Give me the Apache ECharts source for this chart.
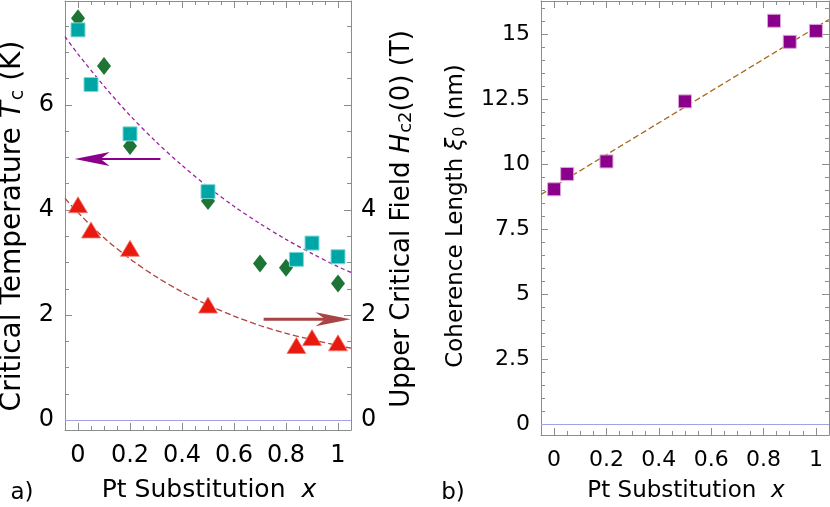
<!DOCTYPE html>
<html><head><meta charset="utf-8">
<script src="https://cdn.jsdelivr.net/npm/echarts@6/dist/echarts.min.js"></script>
<style>html,body{margin:0;padding:0;background:#fff}#c{width:830px;height:507px}</style>
</head><body><div id="c"></div>
<script>
// ---- data ----
var xTcA = [0, 0.1, 0.2, 0.5, 0.7, 0.8, 1];
var tcA  = [7.65, 6.74, 5.22, 4.17, 2.98, 2.90, 2.60];
var xTcB = [0, 0.05, 0.2, 0.5, 0.84, 0.9, 1];
var tcB  = [7.43, 6.39, 5.45, 4.35, 3.06, 3.37, 3.11];
var xHc  = [0, 0.05, 0.2, 0.5, 0.84, 0.9, 1];
var hc2  = [4.10, 3.62, 3.27, 2.19, 1.42, 1.57, 1.47];
var xFit = [-0.05, 0, 0.1, 0.2, 0.3, 0.4, 0.5, 0.6, 0.7, 0.8, 0.9, 1.0, 1.05];
var tcFit = [7.30, 6.97, 6.36, 5.80, 5.30, 4.85, 4.44, 4.07, 3.74, 3.44, 3.17, 2.92, 2.81];
var hcFit = [4.22, 3.95, 3.47, 3.07, 2.73, 2.44, 2.19, 1.98, 1.80, 1.65, 1.53, 1.42, 1.37];
var xXi  = [0, 0.05, 0.2, 0.5, 0.84, 0.9, 1];
var xi   = [9.03, 9.62, 10.10, 12.41, 15.51, 14.70, 15.12];
var xXiFit = [-0.05, 1.05];
var xiFit  = [8.83, 15.56];
// arrows: [tailX, tailY, tipX, tipY] in data units
var tcArrow = [[0.317, 4.97, -0.013, 4.97]];
var hcArrow = [[0.714, 1.92, 1.048, 1.92]];
// ticks
var xTicks = [0, 0.2, 0.4, 0.6, 0.8, 1];
var xMinor = [0.05, 0.1, 0.15, 0.25, 0.3, 0.35, 0.45, 0.5, 0.55, 0.65, 0.7, 0.75, 0.85, 0.9, 0.95];
var tcTicks = [0, 2, 4, 6];
var hcTicks = [0, 2, 4];
var tcMinor = [0.5, 1, 1.5, 2.5, 3, 3.5, 4.5, 5, 5.5, 6.5, 7, 7.5];
var xiTicks = [0, 2.5, 5, 7.5, 10, 12.5, 15];
var xiMinor = [0.5, 1, 1.5, 2, 3, 3.5, 4, 4.5, 5.5, 6, 6.5, 7, 8, 8.5, 9, 9.5, 10.5, 11, 11.5, 12, 13, 13.5, 14, 14.5, 15.5, 16];

function zip(xs, ys) { return xs.map(function (x, i) { return [x, ys[i]]; }); }
var FONT = 'DejaVu Sans';
var frame = '#8c8c8c';

function xAx(grid, pos, ticks, len, labels, size, margin, line) {
  return {gridIndex: grid, type: 'value', position: pos, min: -0.05, max: 1.05,
    axisLine: {show: line, onZero: false, lineStyle: {color: frame, width: 1}},
    axisTick: {show: true, inside: true, length: len, customValues: ticks, lineStyle: {color: frame, width: 1}},
    axisLabel: labels ? {show: true, customValues: labels, margin: margin, color: '#000', fontFamily: FONT, fontSize: size} : {show: false},
    splitLine: {show: false}};
}
function yAx(grid, pos, min, max, ticks, len, labels, size, margin, line) {
  return {gridIndex: grid, type: 'value', position: pos, min: min, max: max,
    axisLine: {show: line, onZero: false, lineStyle: {color: frame, width: 1}},
    axisTick: {show: true, inside: true, length: len, customValues: ticks, lineStyle: {color: frame, width: 1}},
    axisLabel: labels ? {show: true, customValues: labels, margin: margin, color: '#000', fontFamily: FONT, fontSize: size} : {show: false},
    splitLine: {show: false}};
}

function arrowRenderer(color, width, headLen, headHalf, notch) {
  return function (params, api) {
    var a = api.coord([api.value(0), api.value(1)]);
    var b = api.coord([api.value(2), api.value(3)]);
    var dx = b[0] - a[0], dy = b[1] - a[1];
    var L = Math.sqrt(dx * dx + dy * dy) || 1;
    var ux = dx / L, uy = dy / L, nx = -uy, ny = ux;
    var bx = b[0] - ux * headLen, by = b[1] - uy * headLen;
    var mx = b[0] - ux * notch, my = b[1] - uy * notch;
    return {type: 'group', children: [
      {type: 'line', shape: {x1: a[0], y1: a[1], x2: mx, y2: my}, style: {stroke: color, lineWidth: width}},
      {type: 'polygon', shape: {points: [[b[0], b[1]], [bx + nx * headHalf, by + ny * headHalf], [mx, my], [bx - nx * headHalf, by - ny * headHalf]]},
        style: {fill: color}}
    ]};
  };
}

var zeroLine = {silent: true, symbol: ['none', 'none'], label: {show: false},
  lineStyle: {color: '#a3a3e3', width: 1, type: 'solid'}, data: [{yAxis: 0}], animation: false};

var option = {
  animation: false,
  backgroundColor: '#fff',
  grid: [
    {left: 65, top: 1, width: 286, height: 429, containLabel: false, outerBoundsMode: 'none'},
    {left: 541, top: 1, width: 288, height: 434, containLabel: false, outerBoundsMode: 'none'}
  ],
  xAxis: [
    xAx(0, 'bottom', xTicks, 7, xTicks, 24, 14, true),
    xAx(0, 'bottom', xMinor, 4, null, 0, 0, false),
    xAx(0, 'top', xTicks, 7, null, 0, 0, true),
    xAx(0, 'top', xMinor, 4, null, 0, 0, false),
    xAx(1, 'bottom', xTicks, 7, xTicks, 22, 14, true),
    xAx(1, 'bottom', xMinor, 4, null, 0, 0, false),
    xAx(1, 'top', xTicks, 7, null, 0, 0, true),
    xAx(1, 'top', xMinor, 4, null, 0, 0, false)
  ],
  yAxis: [
    yAx(0, 'left', -0.19, 7.98, tcTicks, 7, tcTicks, 24, 11, true),
    yAx(0, 'left', -0.19, 7.98, tcMinor, 4, null, 0, 0, false),
    yAx(0, 'right', -0.19, 7.98, tcTicks, 7, hcTicks, 24, 10, true),
    yAx(0, 'right', -0.19, 7.98, tcMinor, 4, null, 0, 0, false),
    yAx(1, 'left', -0.42, 16.27, xiTicks, 7, xiTicks, 22, 11, true),
    yAx(1, 'left', -0.42, 16.27, xiMinor, 4, null, 0, 0, false),
    yAx(1, 'right', -0.42, 16.27, xiTicks, 7, null, 0, 0, true),
    yAx(1, 'right', -0.42, 16.27, xiMinor, 4, null, 0, 0, false)
  ],
  series: [
    {type: 'line', xAxisIndex: 0, yAxisIndex: 0, data: zip(xFit, tcFit), smooth: 0.3, symbol: 'none', z: 2,
      lineStyle: {color: '#9b1fa3', width: 1.3, type: [4, 3]}, silent: true, clip: true,
      markLine: zeroLine},
    {type: 'line', xAxisIndex: 0, yAxisIndex: 0, data: zip(xFit, hcFit), smooth: 0.3, symbol: 'none', z: 2,
      lineStyle: {color: '#b3403d', width: 1.3, type: [6, 3]}, silent: true, clip: true},
    {type: 'scatter', xAxisIndex: 0, yAxisIndex: 0, data: zip(xTcA, tcA), symbol: 'diamond', symbolSize: [14, 18], z: 3,
      itemStyle: {color: '#1d7434', opacity: 1}, silent: true},
    {type: 'scatter', xAxisIndex: 0, yAxisIndex: 0, data: zip(xTcB, tcB), symbol: 'rect', symbolSize: 14, z: 4,
      itemStyle: {color: '#00a5a5', borderColor: '#7fd8d8', borderWidth: 1, opacity: 1}, silent: true},
    {type: 'scatter', xAxisIndex: 0, yAxisIndex: 0, data: zip(xHc, hc2), symbol: 'triangle', symbolSize: [19, 16], z: 4,
      itemStyle: {color: '#e8190f', borderColor: '#f27a72', borderWidth: 0.8, opacity: 1}, silent: true},
    {type: 'custom', xAxisIndex: 0, yAxisIndex: 0, data: tcArrow, z: 5, silent: true, clip: false,
      renderItem: arrowRenderer('#8b008b', 2, 35, 7, 26)},
    {type: 'custom', xAxisIndex: 0, yAxisIndex: 0, data: hcArrow, z: 5, silent: true, clip: false,
      renderItem: arrowRenderer('#a84444', 3, 35, 7, 25)},
    {type: 'line', xAxisIndex: 4, yAxisIndex: 4, data: zip(xXiFit, xiFit), symbol: 'none', z: 2,
      lineStyle: {color: '#a36a1c', width: 1.3, type: [6, 3]}, silent: true, clip: true,
      markLine: zeroLine},
    {type: 'scatter', xAxisIndex: 4, yAxisIndex: 4, data: zip(xXi, xi), symbol: 'rect', symbolSize: 13, z: 4,
      itemStyle: {color: '#8b008b', borderColor: '#dba6db', borderWidth: 1, opacity: 1}, silent: true}
  ],
  graphic: [
    {type: 'text', x: 13, y: 226, rotation: Math.PI / 2, silent: true,
      style: {text: 'Critical Temperature {i|T}{s|c} (K)', font: '28px "DejaVu Sans"', fill: '#000', align: 'center', verticalAlign: 'middle',
        rich: {i: {fontStyle: 'italic', fontSize: 28, fontFamily: FONT}, s: {fontSize: 19, fontFamily: FONT, padding: [10, 0, 0, 1]}}}},
    {type: 'text', x: 402, y: 219, rotation: Math.PI / 2, silent: true,
      style: {text: 'Upper Critical Field {i|H}{s|c2}(0) (T)', font: '26px "DejaVu Sans"', fill: '#000', align: 'center', verticalAlign: 'middle',
        rich: {i: {fontStyle: 'italic', fontSize: 26, fontFamily: FONT}, s: {fontSize: 18, fontFamily: FONT, padding: [9, 0, 0, 1]}}}},
    {type: 'text', x: 456, y: 216, rotation: Math.PI / 2, silent: true,
      style: {text: 'Coherence Length {i|\u03be}{s|0} (nm)', font: '23px "DejaVu Sans"', fill: '#000', align: 'center', verticalAlign: 'middle',
        rich: {i: {fontStyle: 'italic', fontSize: 23, fontFamily: FONT}, s: {fontSize: 16, fontFamily: FONT, padding: [8, 0, 0, 1]}}}},
    {type: 'text', x: 209, y: 490, silent: true,
      style: {text: 'Pt Substitution  {i|x}', font: '25px "DejaVu Sans"', fill: '#000', align: 'center', verticalAlign: 'middle',
        rich: {i: {fontStyle: 'italic', fontSize: 25, fontFamily: FONT}}}},
    {type: 'text', x: 686, y: 491, silent: true,
      style: {text: 'Pt Substitution  {i|x}', font: '23px "DejaVu Sans"', fill: '#000', align: 'center', verticalAlign: 'middle',
        rich: {i: {fontStyle: 'italic', fontSize: 23, fontFamily: FONT}}}},
    {type: 'text', x: 22, y: 493, silent: true,
      style: {text: 'a)', font: '23px "DejaVu Sans"', fill: '#000', align: 'center', verticalAlign: 'middle'}},
    {type: 'text', x: 453, y: 493, silent: true,
      style: {text: 'b)', font: '23px "DejaVu Sans"', fill: '#000', align: 'center', verticalAlign: 'middle'}}
  ]
};
var chart = echarts.init(document.getElementById('c'));
chart.setOption(option);
</script></body></html>
